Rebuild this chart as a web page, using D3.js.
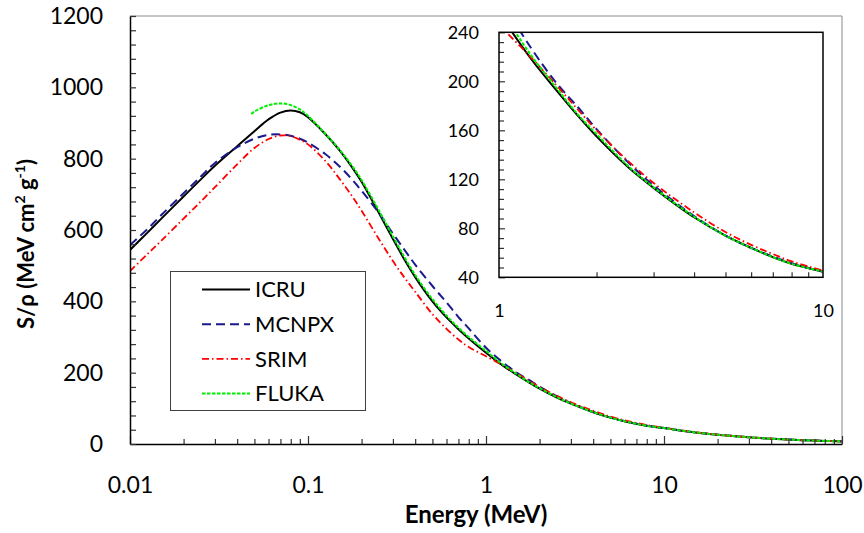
<!DOCTYPE html>
<html>
<head>
<meta charset="utf-8">
<script src="https://cdn.jsdelivr.net/npm/d3@7"></script>
<style>
  html, body { margin: 0; padding: 0; background: #fff; }
  svg { display: block; font-family: Lato, "Open Sans", sans-serif; }
</style>
</head>
<body>
<svg id="chart" width="864" height="533"></svg>
<script>
// energies (MeV) shared by ICRU, MCNPX and SRIM
var energies = [0.01, 0.0125, 0.015, 0.02, 0.025, 0.03, 0.04, 0.05, 0.06, 0.07, 0.08, 0.09, 0.1,
  0.125, 0.15, 0.175, 0.2, 0.25, 0.3, 0.35, 0.4, 0.5, 0.6, 0.7, 0.8, 1, 1.25, 1.5, 1.75, 2,
  2.5, 3, 4, 5, 6, 7, 8, 10, 15, 20, 30, 40, 50, 60, 80, 100];

var icru = [544, 592, 632, 694, 742, 780, 835, 877, 910, 929, 935, 930, 916,
  869, 824, 779, 735, 648, 575, 515, 468, 400, 355, 322, 296, 256, 219, 193, 172, 155,
  130, 113, 89, 74, 64, 56.5, 51, 44.6, 32.5, 26, 18.8, 14.9, 12.4, 10.8, 8.6, 7.3];

var mcnpx = [558, 602, 642, 703, 750, 788, 832, 856, 867, 868, 864, 856, 845,
  813, 779, 744, 710, 648, 590, 543, 503, 443, 397, 356, 324, 270, 228, 199, 179, 161,
  134, 115, 90, 74, 64, 57, 51.5, 44.6, 32.5, 26, 18.8, 14.9, 12.4, 10.8, 8.6, 7.3];

var srim = [485, 532, 570, 632, 680, 720, 784, 830, 855, 865, 863, 853, 840,
  794, 744, 698, 654, 575, 513, 465, 427, 364, 323, 293, 272, 246, 220, 197, 177, 160,
  135, 117, 93, 77, 66.5, 59, 53, 45.5, 33, 26.3, 19, 15, 12.5, 10.9, 8.7, 7.4];

// FLUKA starts at a higher energy
var flukaEnergies = [0.048, 0.05, 0.06, 0.07, 0.08, 0.09, 0.1, 0.125, 0.15, 0.175, 0.2, 0.25,
  0.3, 0.35, 0.4, 0.5, 0.6, 0.7, 0.8, 1, 1.25, 1.5, 1.75, 2, 2.5, 3, 4, 5, 6, 7, 8, 10,
  15, 20, 30, 40, 50, 60, 80, 100];
var fluka = [925, 932, 950, 955, 950, 938, 920, 870, 826, 783, 740, 655,
  582, 522, 474, 406, 360, 326, 300, 261, 222, 195, 173, 157, 131, 113.5, 89.5, 74, 64, 56.5, 51, 44.6,
  32.5, 26, 18.8, 14.9, 12.4, 10.8, 8.6, 7.3];

var xTicks = [0.01, 0.1, 1, 10, 100];
var yTicks = [0, 200, 400, 600, 800, 1000, 1200];
var insetXTicks = [1, 10];
var insetYTicks = [40, 80, 120, 160, 200, 240];

var series = [
  { name: "ICRU",  e: energies,      v: icru,  color: "#000000", dash: null,        width: 2 },
  { name: "MCNPX", e: energies,      v: mcnpx, color: "#1a1a8c", dash: "9,5",       width: 2 },
  { name: "SRIM",  e: energies,      v: srim,  color: "#ff0000", dash: "7,3,1.5,3", width: 1.8 },
  { name: "FLUKA", e: flukaEnergies, v: fluka, color: "#00ee00", dash: "3.5,1.5",   width: 2 }
];

var svg = d3.select("#chart");

function points(s) {
  return s.e.map(function(e, i) { return [e, s.v[i]]; });
}

// ---- main plot ----
var m = { left: 130, right: 842, top: 16, bottom: 444 };
var x = d3.scaleLog().domain([0.01, 100]).range([m.left, m.right]);
var y = d3.scaleLinear().domain([0, 1200]).range([m.bottom, m.top]);

svg.append("clipPath").attr("id", "mainClip")
  .append("rect").attr("x", m.left).attr("y", m.top)
  .attr("width", m.right - m.left).attr("height", m.bottom - m.top);

// plot area frame (top/right in grey)
svg.append("path")
  .attr("d", "M" + m.left + "," + m.top + "H" + m.right + "V" + m.bottom)
  .attr("fill", "none").attr("stroke", "#8a8a8a").attr("stroke-width", 1);

var line = d3.line()
  .x(function(d) { return x(d[0]); })
  .y(function(d) { return y(d[1]); })
  .curve(d3.curveCatmullRom.alpha(0.5));

svg.append("g").attr("clip-path", "url(#mainClip)")
  .selectAll("path").data(series).enter().append("path")
  .attr("d", function(s) { return line(points(s)); })
  .attr("fill", "none")
  .attr("stroke", function(s) { return s.color; })
  .attr("stroke-width", function(s) { return s.width; })
  .attr("stroke-dasharray", function(s) { return s.dash; });

// minor ticks
var xMinor = [];
[0.01, 0.1, 1, 10].forEach(function(d) {
  for (var k = 2; k <= 9; k++) xMinor.push(d * k);
});
var yMinor = d3.range(0, 1201, 40).filter(function(v) { return v % 200 !== 0; });

svg.append("g").attr("transform", "translate(0," + m.bottom + ")")
  .call(d3.axisBottom(x).tickValues(xMinor).tickSize(-5).tickFormat(""))
  .call(function(g) { g.select(".domain").remove(); });
svg.append("g").attr("transform", "translate(" + m.left + ",0)")
  .call(d3.axisLeft(y).tickValues(yMinor).tickSize(-6).tickFormat(""))
  .call(function(g) { g.select(".domain").remove(); });

var xAxis = svg.append("g").attr("transform", "translate(0," + m.bottom + ")")
  .call(d3.axisBottom(x).tickValues(xTicks).tickSize(-8).tickSizeOuter(0).tickPadding(33)
    .tickFormat(function(d) { return String(d); }));
var yAxis = svg.append("g").attr("transform", "translate(" + m.left + ",0)")
  .call(d3.axisLeft(y).tickValues(yTicks).tickSize(-6).tickSizeOuter(0).tickPadding(27)
    .tickFormat(d3.format("d")));

[xAxis, yAxis].forEach(function(g) {
  g.attr("font-family", null).attr("font-size", 23);
  g.selectAll("text").attr("fill", "#000");
  g.select(".domain").attr("stroke", "#000").attr("stroke-width", 1.5);
});
svg.selectAll(".tick line").attr("stroke", "#333").attr("stroke-width", 1.2);

// axis titles
svg.append("text")
  .attr("x", 476).attr("y", 523)
  .attr("text-anchor", "middle")
  .attr("font-size", 24).attr("font-weight", "bold")
  .text("Energy (MeV)");

var yTitle = svg.append("text")
  .attr("transform", "translate(34,244) rotate(-90)")
  .attr("text-anchor", "middle")
  .attr("font-size", 22).attr("font-weight", "bold");
yTitle.append("tspan").text("S/\u03c1  (MeV cm");
yTitle.append("tspan").attr("font-size", 14).attr("dy", -9).text("2");
yTitle.append("tspan").attr("dy", 9).text(" g");
yTitle.append("tspan").attr("font-size", 14).attr("dy", -9).text("-1");
yTitle.append("tspan").attr("dy", 9).text(")");

// ---- legend ----
var legend = svg.append("g");
legend.append("rect")
  .attr("x", 170.5).attr("y", 271.5).attr("width", 195).attr("height", 139)
  .attr("fill", "#fff").attr("stroke", "#404040").attr("stroke-width", 1);
var rowY = d3.scalePoint().domain(series.map(function(s) { return s.name; }))
  .range([289.5, 393.5]);
var rows = legend.selectAll("g.row").data(series).enter().append("g")
  .attr("class", "row")
  .attr("transform", function(s) { return "translate(0," + rowY(s.name) + ")"; });
rows.append("line")
  .attr("x1", 202).attr("x2", 250)
  .attr("stroke", function(s) { return s.color; })
  .attr("stroke-width", function(s) { return s.width; })
  .attr("stroke-dasharray", function(s) { return s.dash; });
rows.append("text")
  .attr("x", 255).attr("y", 0).attr("dy", "0.36em")
  .attr("font-size", 22)
  .text(function(s) { return s.name; });

// ---- inset ----
var n = { left: 499, right: 823, top: 32.3, bottom: 277.3 };
var ix = d3.scaleLog().domain([1, 10]).range([n.left, n.right]);
var iy = d3.scaleLinear().domain([40, 240]).range([n.bottom, n.top]);

svg.append("clipPath").attr("id", "insetClip")
  .append("rect").attr("x", n.left).attr("y", n.top)
  .attr("width", n.right - n.left).attr("height", n.bottom - n.top);

var iline = d3.line()
  .x(function(d) { return ix(d[0]); })
  .y(function(d) { return iy(d[1]); })
  .curve(d3.curveCatmullRom.alpha(0.5));

svg.append("g").attr("clip-path", "url(#insetClip)")
  .selectAll("path").data(series).enter().append("path")
  .attr("d", function(s) {
    return iline(points(s).filter(function(p) { return p[0] >= 0.8 && p[0] <= 15; }));
  })
  .attr("fill", "none")
  .attr("stroke", function(s) { return s.color; })
  .attr("stroke-width", function(s) { return s.width; })
  .attr("stroke-dasharray", function(s) { return s.dash; });

var ixMinor = d3.range(2, 10);
var iyMinor = d3.range(40, 241, 8).filter(function(v) { return v % 40 !== 0; });

svg.append("g").attr("transform", "translate(0," + n.bottom + ")")
  .call(d3.axisBottom(ix).tickValues(ixMinor).tickSize(-5).tickFormat(""))
  .call(function(g) { g.select(".domain").remove(); });
svg.append("g").attr("transform", "translate(" + n.left + ",0)")
  .call(d3.axisLeft(iy).tickValues(iyMinor).tickSize(-5).tickFormat(""))
  .call(function(g) { g.select(".domain").remove(); });

var ixAxis = svg.append("g").attr("transform", "translate(0," + n.bottom + ")")
  .call(d3.axisBottom(ix).tickValues(insetXTicks).tickSize(0).tickSizeOuter(0).tickPadding(27)
    .tickFormat(function(d) { return String(d); }));
var iyAxis = svg.append("g").attr("transform", "translate(" + n.left + ",0)")
  .call(d3.axisLeft(iy).tickValues(insetYTicks).tickSize(-6).tickSizeOuter(0).tickPadding(20));

[ixAxis, iyAxis].forEach(function(g) {
  g.attr("font-family", null).attr("font-size", 18);
  g.selectAll("text").attr("fill", "#000");
  g.select(".domain").remove();
});
svg.selectAll(".tick line").attr("stroke", "#333").attr("stroke-width", 1.2);

svg.append("rect")
  .attr("x", n.left).attr("y", n.top)
  .attr("width", n.right - n.left).attr("height", n.bottom - n.top)
  .attr("fill", "none").attr("stroke", "#000").attr("stroke-width", 1.5);
</script>
</body>
</html>
